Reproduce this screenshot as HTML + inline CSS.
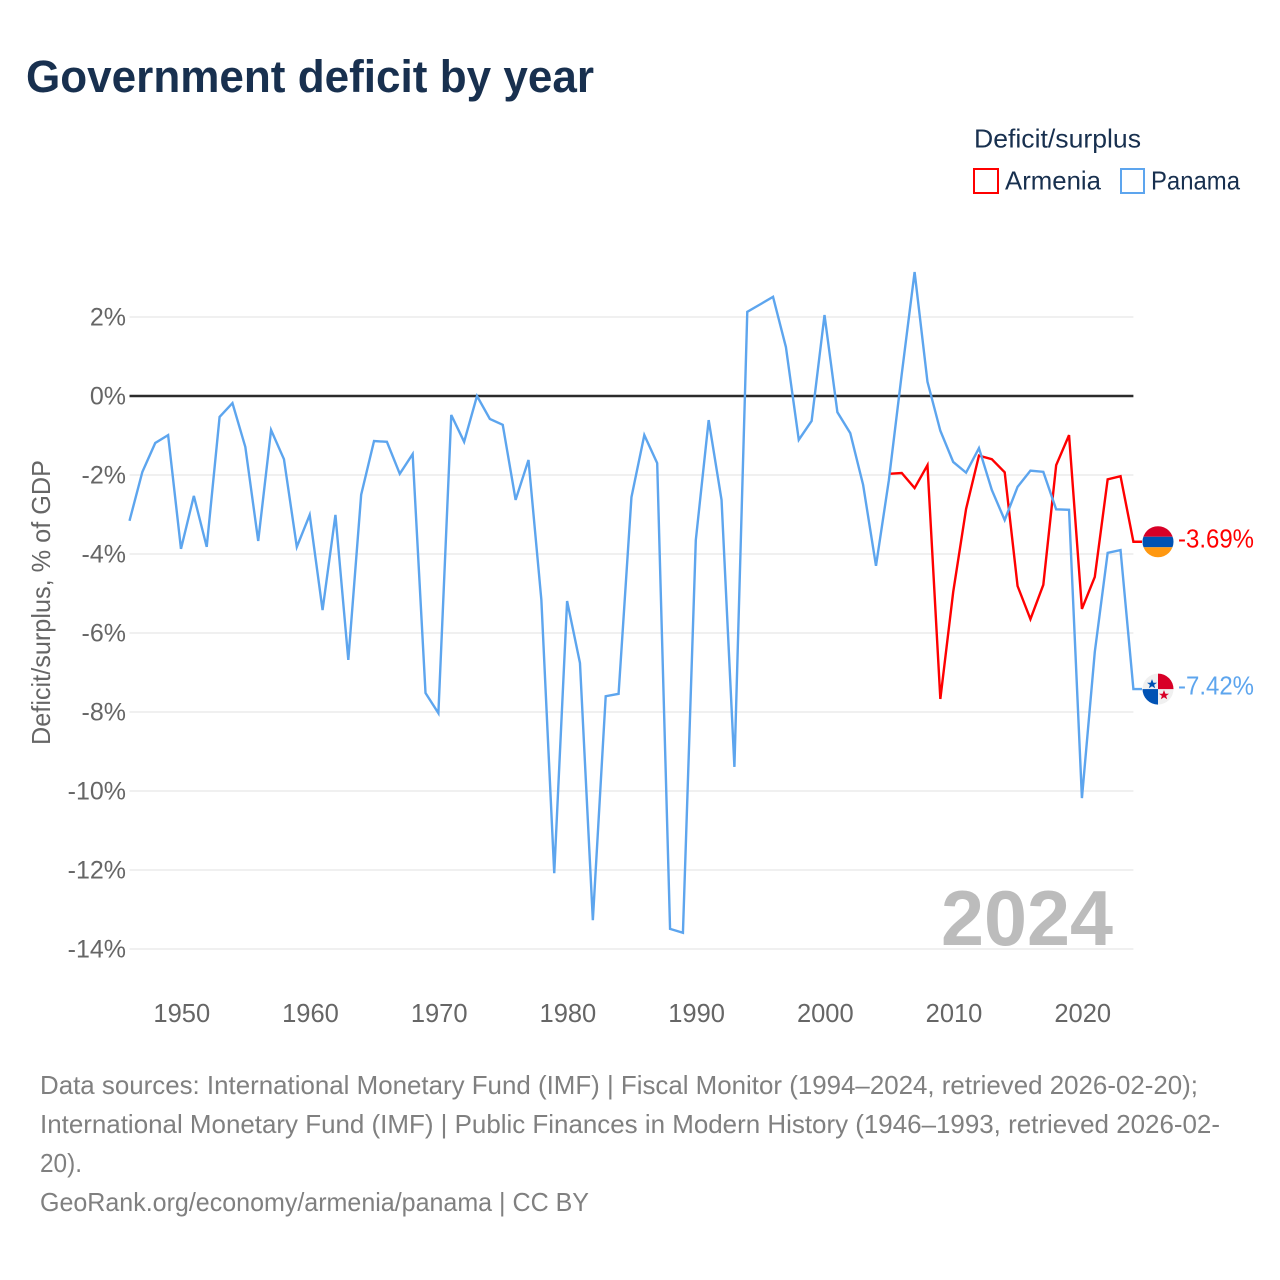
<!DOCTYPE html>
<html lang="en">
<head>
<meta charset="utf-8">
<title>Government deficit by year</title>
<style>
html,body{margin:0;padding:0;background:#fff;width:1280px;height:1280px;overflow:hidden}
svg{display:block}
text{font-family:"Liberation Sans",sans-serif}
</style>
</head>
<body>
<svg id="chart" width="1280" height="1280" viewBox="0 0 1280 1280" xmlns="http://www.w3.org/2000/svg">
  <rect width="1280" height="1280" fill="#ffffff"/>
  <text x="26" y="92" font-size="45" font-weight="700" fill="#18304f" textLength="568" lengthAdjust="spacingAndGlyphs">Government deficit by year</text>

  <g>
    <text x="974" y="147.5" font-size="26" fill="#18304f" textLength="167" lengthAdjust="spacingAndGlyphs">Deficit/surplus</text>
    <g>
      <rect x="974" y="169" width="24" height="24" fill="#ffffff" stroke="#ff0000" stroke-width="2"/>
      <text x="1005" y="189.5" font-size="26" fill="#18304f" textLength="96" lengthAdjust="spacingAndGlyphs">Armenia</text>
    </g>
    <g>
      <rect x="1121" y="169" width="23" height="24" fill="#ffffff" stroke="#5da5ee" stroke-width="2"/>
      <text x="1151" y="189.5" font-size="26" fill="#18304f" textLength="89" lengthAdjust="spacingAndGlyphs">Panama</text>
    </g>
  </g>

  <text transform="translate(50,602.5) rotate(-90)" text-anchor="middle" font-size="26" fill="#666666" textLength="285" lengthAdjust="spacingAndGlyphs">Deficit/surplus, % of GDP</text>

  <g id="grid"></g>
  <g id="yticks"></g>
  <g id="xticks"></g>

  <text x="941" y="945" font-size="78" font-weight="700" fill="#bcbcbc" textLength="172" lengthAdjust="spacingAndGlyphs">2024</text>

  <line id="zero" stroke="#2b2b2b" stroke-width="2.4"/>

  <g id="series"></g>

  <defs>
    <clipPath id="clip-arm"><circle id="clip-arm-c" r="15.5"/></clipPath>
    <clipPath id="clip-pan"><circle id="clip-pan-c" r="15.5"/></clipPath>
  </defs>
  <g id="flag-armenia" clip-path="url(#clip-arm)">
    <rect x="-16" y="-16" width="32" height="11" fill="#d80027"/>
    <rect x="-16" y="-5" width="32" height="10.5" fill="#0052b4"/>
    <rect x="-16" y="5.5" width="32" height="11" fill="#ff9811"/>
  </g>
  <g id="flag-panama" clip-path="url(#clip-pan)">
    <rect x="-16" y="-16" width="32" height="32" fill="#f0f0f0"/>
    <rect x="0" y="-16" width="16" height="16" fill="#d80027"/>
    <rect x="-16" y="0" width="16" height="16" fill="#0052b4"/>
    <polygon points="-6,-10 -4.6,-6.4 -1,-6.4 -3.9,-4.2 -2.8,-0.8 -6,-2.9 -9.2,-0.8 -8.1,-4.2 -11,-6.4 -7.4,-6.4" fill="#0052b4"/>
    <polygon points="6,1 7.4,4.6 11,4.6 8.1,6.8 9.2,10.2 6,8.1 2.8,10.2 3.9,6.8 1,4.6 4.6,4.6" fill="#d80027"/>
  </g>
  <text id="label-armenia" x="1178" font-size="26" fill="#ff0000" textLength="76" lengthAdjust="spacingAndGlyphs"></text>
  <text id="label-panama" x="1178" font-size="26" fill="#5da5ee" textLength="76" lengthAdjust="spacingAndGlyphs"></text>

  <g font-size="26" fill="#808080">
    <text x="40" y="1094" textLength="1158" lengthAdjust="spacingAndGlyphs">Data sources: International Monetary Fund (IMF) | Fiscal Monitor (1994–2024, retrieved 2026-02-20);</text>
    <text x="40" y="1133" textLength="1180" lengthAdjust="spacingAndGlyphs">International Monetary Fund (IMF) | Public Finances in Modern History (1946–1993, retrieved 2026-02-</text>
    <text x="40" y="1172" textLength="42" lengthAdjust="spacingAndGlyphs">20).</text>
    <text x="40" y="1211" textLength="549" lengthAdjust="spacingAndGlyphs">GeoRank.org/economy/armenia/panama | CC BY</text>
  </g>

  <script>
  const panamaYears = [1946,1947,1948,1949,1950,1951,1952,1953,1954,1955,1956,1957,1958,1959,1960,1961,1962,1963,1964,1965,1966,1967,1968,1969,1970,1971,1972,1973,1974,1975,1976,1977,1978,1979,1980,1981,1982,1983,1984,1985,1986,1987,1988,1989,1990,1991,1992,1993,1994,1995,1996,1997,1998,1999,2000,2001,2002,2003,2004,2005,2006,2007,2008,2009,2010,2011,2012,2013,2014,2015,2016,2017,2018,2019,2020,2021,2022,2023,2024];
  const panamaValues = [-3.16,-1.92,-1.19,-0.99,-3.87,-2.53,-3.82,-0.53,-0.18,-1.29,-3.67,-0.86,-1.6,-3.82,-3.01,-5.42,-3.01,-6.68,-2.5,-1.14,-1.16,-1.97,-1.47,-7.52,-8.03,-0.48,-1.16,0,-0.58,-0.73,-2.63,-1.62,-5.16,-12.08,-5.19,-6.76,-13.27,-7.6,-7.54,-2.56,-0.99,-1.7,-13.49,-13.59,-3.65,-0.61,-2.63,-9.39,2.13,2.32,2.51,1.24,-1.11,-0.63,2.05,-0.41,-0.94,-2.25,-4.3,-2.13,0.55,3.14,0.36,-0.88,-1.67,-1.94,-1.32,-2.38,-3.14,-2.3,-1.89,-1.92,-2.87,-2.88,-10.18,-6.48,-3.97,-3.9,-7.42];
  const armeniaYears = [2005,2006,2007,2008,2009,2010,2011,2012,2013,2014,2015,2016,2017,2018,2019,2020,2021,2022,2023,2024];
  const armeniaValues = [-1.97,-1.95,-2.33,-1.75,-7.67,-4.96,-2.86,-1.51,-1.6,-1.93,-4.81,-5.65,-4.78,-1.75,-0.99,-5.39,-4.58,-2.11,-2.03,-3.69];
  const yTickValues = [2,0,-2,-4,-6,-8,-10,-12,-14];
  const xTickYears = [1950,1960,1970,1980,1990,2000,2010,2020];

  const NS = 'http://www.w3.org/2000/svg';
  const plotLeft = 129.5, plotRight = 1133.4, yearMin = 1946, yearMax = 2024;
  const zeroPixel = 396, pixelsPerPercent = 39.5, flagX = 1158, leaderEnd = 1142;
  function xScale(year) { return plotLeft + (year - yearMin) * (plotRight - plotLeft) / (yearMax - yearMin); }
  function yScale(value) { return zeroPixel - value * pixelsPerPercent; }
  function make(tag, attrs) {
    const el = document.createElementNS(NS, tag);
    for (const k in attrs) el.setAttribute(k, attrs[k]);
    return el;
  }

  const grid = document.getElementById('grid');
  const yticks = document.getElementById('yticks');
  yTickValues.forEach(function (v) {
    if (v !== 0) {
      const gl = make('line', {x1: plotLeft, x2: plotRight, y1: yScale(v), y2: yScale(v), stroke: '#e8e8e8', 'stroke-width': 1.2});
      
      
      grid.appendChild(gl);
    }
    const t = make('text', {x: 126, y: yScale(v) + 8.5, 'text-anchor': 'end', 'font-size': 25, fill: '#666666'});
    
    
    t.textContent = v + '%';
    yticks.appendChild(t);
  });

  const xticks = document.getElementById('xticks');
  xTickYears.forEach(function (yr) {
    const t = make('text', {x: xScale(yr) + 0.8, y: 1022, 'text-anchor': 'middle', 'font-size': 25.5, fill: '#666666'});
    
    
    t.textContent = yr;
    xticks.appendChild(t);
  });

  const zero = document.getElementById('zero');
  zero.setAttribute('x1', plotLeft);
  zero.setAttribute('x2', plotRight);
  zero.setAttribute('y1', yScale(0));
  zero.setAttribute('y2', yScale(0));

  function drawSeries(years, values, color, lineName) {
    const pts = years.map(function (yr, i) { return xScale(yr).toFixed(2) + ',' + yScale(values[i]).toFixed(2); });
    const lastY = yScale(values[values.length - 1]).toFixed(2);
    pts.push(leaderEnd + ',' + lastY);
    const line = make('polyline', {points: pts.join(' '), fill: 'none', stroke: color, 'stroke-width': 2.4, 'stroke-linejoin': 'miter'});
    
    
    document.getElementById('series').appendChild(line);
  }
  drawSeries(armeniaYears, armeniaValues, '#ff0000', 'armenia-line');
  drawSeries(panamaYears, panamaValues, '#5da5ee', 'panama-line');

  function placeEnd(values, clipId, flagId, labelId) {
    const last = values[values.length - 1];
    const y = yScale(last);
    const c = document.getElementById(clipId);
    c.setAttribute('cx', 0);
    c.setAttribute('cy', 0);
    document.getElementById(flagId).setAttribute('transform', 'translate(' + flagX + ',' + y + ')');
    const lab = document.getElementById(labelId);
    lab.setAttribute('y', y + 5.5);
    lab.textContent = last.toFixed(2) + '%';
  }
  placeEnd(armeniaValues, 'clip-arm-c', 'flag-armenia', 'label-armenia');
  placeEnd(panamaValues, 'clip-pan-c', 'flag-panama', 'label-panama');
  </script>
</svg>
</body>
</html>
